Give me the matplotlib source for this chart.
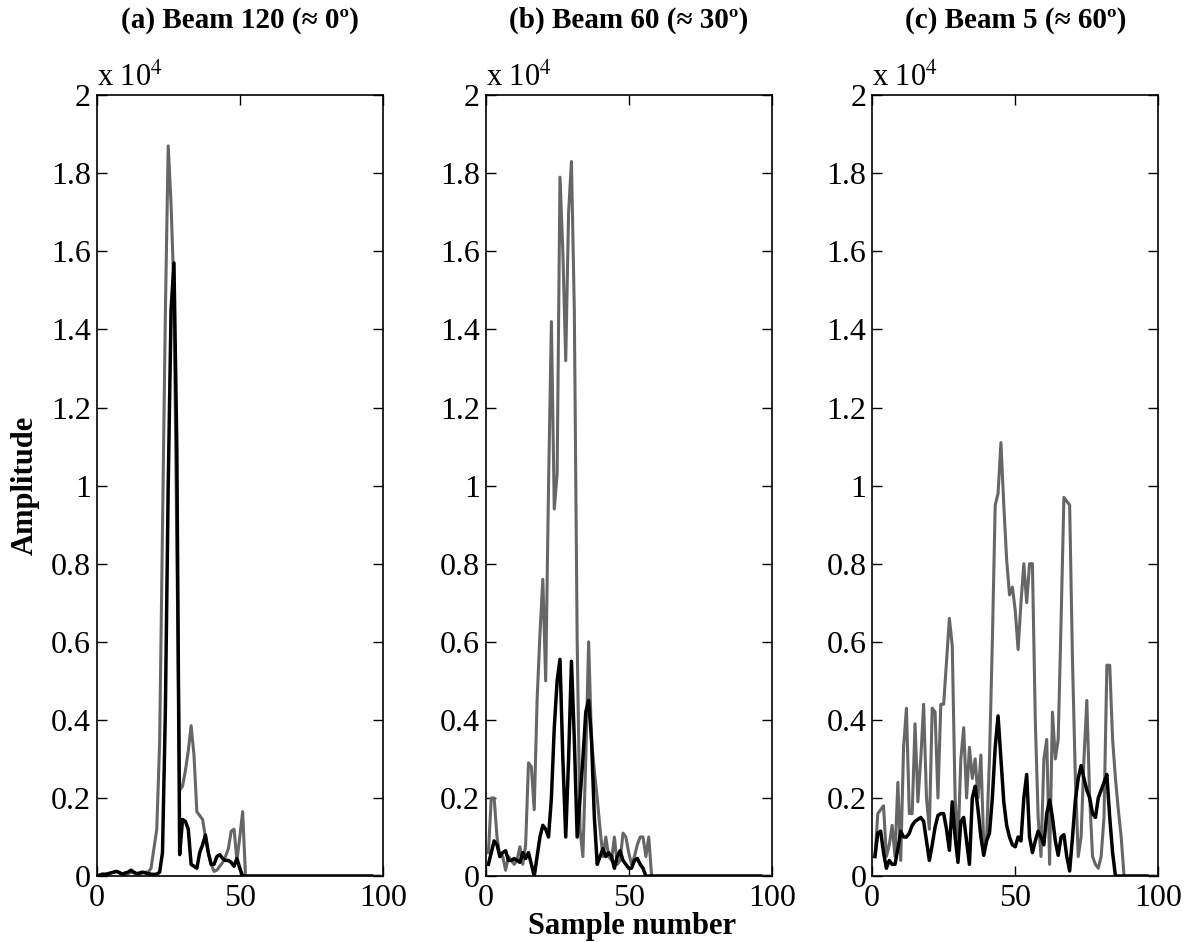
import numpy as np
import matplotlib
matplotlib.use("Agg")
import matplotlib.pyplot as plt

plt.rcParams['font.family'] = ['Liberation Serif', 'DejaVu Serif']
plt.rcParams['mathtext.fontset'] = 'stix'

# amplitudes in units of 1e4
gray_a = [0.003, 0.004, 0.005, 0.006, 0.008, 0.01, 0.012, 0.01, 0.006, 0.004,
          0.006, 0.01, 0.008, 0.006, 0.005, 0.008, 0.01, 0.01, 0.02, 0.07,
          0.12, 0.34, 0.89, 1.44, 1.87, 1.72, 1.5, 0.85, 0.22, 0.23,
          0.27, 0.32, 0.385, 0.31, 0.165, 0.155, 0.145, 0.1, 0.06, 0.03,
          0.012, 0.015, 0.025, 0.035, 0.05, 0.07, 0.115, 0.12, 0.04, 0.1,
          0.165] + [0.0] * 48
black_a = [0.002, 0.005, 0.004, 0.006, 0.008, 0.01, 0.012, 0.008, 0.005, 0.008,
           0.01, 0.015, 0.01, 0.006, 0.008, 0.01, 0.008, 0.006, 0.005, 0.004,
           0.005, 0.01, 0.06, 0.42, 1.0, 1.45, 1.57, 1.1, 0.055, 0.145,
           0.14, 0.12, 0.03, 0.025, 0.02, 0.06, 0.08, 0.105, 0.06, 0.03,
           0.03, 0.05, 0.055, 0.045, 0.04, 0.04, 0.035, 0.025, 0.045, 0.02] + [0.0] * 46

gray_b = [0.06, 0.2, 0.2, 0.1, 0.05, 0.05, 0.015, 0.05, 0.04, 0.03,
          0.04, 0.075, 0.03, 0.08, 0.29, 0.28, 0.17, 0.45, 0.62, 0.76,
          0.5, 1.0, 1.42, 0.94, 1.03, 1.79, 1.6, 1.32, 1.7, 1.83,
          1.45, 0.6, 0.12, 0.05, 0.3, 0.6, 0.35, 0.27, 0.2, 0.12,
          0.05, 0.1, 0.05, 0.04, 0.1, 0.03, 0.04, 0.11, 0.1, 0.06,
          0.03, 0.05, 0.08, 0.1, 0.1, 0.05, 0.1, 0.0] + [0.0] * 41
black_b = [0.03, 0.06, 0.09, 0.08, 0.05, 0.06, 0.065, 0.04, 0.04, 0.045,
           0.04, 0.035, 0.06, 0.045, 0.06, 0.03, 0.0, 0.05, 0.1, 0.13,
           0.12, 0.1, 0.2, 0.38, 0.5, 0.555, 0.3, 0.1, 0.3, 0.55,
           0.35, 0.1, 0.2, 0.3, 0.42, 0.45, 0.35, 0.15, 0.03, 0.05,
           0.07, 0.05, 0.06, 0.05, 0.02, 0.05, 0.065, 0.04, 0.03, 0.02,
           0.02, 0.04, 0.045, 0.03, 0.02, 0.0] + [0.0] * 40

gray_c = [0.05, 0.16, 0.17, 0.18, 0.05, 0.08, 0.13, 0.05, 0.24, 0.04,
          0.33, 0.43, 0.16, 0.16, 0.39, 0.19, 0.3, 0.44, 0.2, 0.12,
          0.43, 0.42, 0.2, 0.44, 0.44, 0.55, 0.66, 0.59, 0.2, 0.08,
          0.3, 0.38, 0.2, 0.33, 0.25, 0.3, 0.2, 0.31, 0.08, 0.1,
          0.3, 0.6, 0.95, 0.98, 1.11, 0.95, 0.81, 0.72, 0.74, 0.68,
          0.58, 0.7, 0.8, 0.7, 0.8, 0.8, 0.4, 0.15, 0.05, 0.3,
          0.35, 0.03, 0.42, 0.3, 0.35, 0.65, 0.97, 0.96, 0.95, 0.55,
          0.25, 0.05, 0.1, 0.3, 0.45, 0.2, 0.05, 0.03, 0.02, 0.05,
          0.15, 0.54, 0.54, 0.35, 0.25, 0.17, 0.1, 0.0] + [0.0] * 11
black_c = [0.05, 0.11, 0.115, 0.06, 0.02, 0.04, 0.03, 0.03, 0.07, 0.115,
           0.1, 0.1, 0.11, 0.13, 0.14, 0.145, 0.15, 0.14, 0.09, 0.04,
           0.08, 0.125, 0.155, 0.16, 0.16, 0.12, 0.066, 0.19, 0.1, 0.035,
           0.14, 0.15, 0.09, 0.03, 0.2, 0.23, 0.17, 0.1, 0.053, 0.09,
           0.11, 0.2, 0.33, 0.41, 0.3, 0.19, 0.13, 0.1, 0.08, 0.075,
           0.1, 0.09, 0.2, 0.26, 0.1, 0.06, 0.09, 0.115, 0.1, 0.08,
           0.16, 0.195, 0.15, 0.09, 0.053, 0.1, 0.106, 0.05, 0.013, 0.1,
           0.195, 0.25, 0.283, 0.25, 0.22, 0.2, 0.16, 0.15, 0.2, 0.22,
           0.24, 0.26, 0.15, 0.06, 0.0] + [0.0] * 11

titles = ['(a) Beam 120 (\u2248 0\u00ba)', '(b) Beam 60 (\u2248 30\u00ba)', '(c) Beam 5 (\u2248 60\u00ba)']
panels = [(gray_a, black_a), (gray_b, black_b), (gray_c, black_c)]
lefts = [0.081, 0.407, 0.731]

fig = plt.figure(figsize=(11.93, 9.42), dpi=100)
for i, (g, b) in enumerate(panels):
    ax = fig.add_axes([lefts[i], 0.070, 0.240, 0.829])
    ax.plot(np.arange(1, len(g) + 1), g, color='#666666', lw=2.2)
    ax.plot(np.arange(1, len(b) + 1), b, color='black', lw=2.5)
    ax.set_xlim(0, 100)
    ax.set_ylim(0, 2)
    ax.set_xticks([0, 50, 100])
    ax.set_yticks(np.arange(0, 2.01, 0.2))
    ax.set_yticklabels(['0', '0.2', '0.4', '0.6', '0.8', '1', '1.2', '1.4', '1.6', '1.8', '2'])
    ax.tick_params(direction='in', top=True, right=True, length=7, width=1, labelsize=23)
    ax.tick_params(axis='x', pad=6)
    ax.tick_params(axis='y', pad=4)
    for s in ax.spines.values():
        s.set_linewidth(1.2)
    ax.text(0.0, 1.003, r'x 10$^{4}$', transform=ax.transAxes, fontsize=22, ha='left', va='bottom')
    ax.text(0.5, 1.078, titles[i], transform=ax.transAxes, fontsize=21, fontweight='bold',
            ha='center', va='bottom')
    if i == 0:
        ax.set_ylabel('Amplitude', fontsize=22, fontweight='bold', labelpad=8)

fig.text(0.53, 0.016, 'Sample number', fontsize=22, fontweight='bold', ha='center', va='center')
fig.savefig('out.png', dpi=100)
